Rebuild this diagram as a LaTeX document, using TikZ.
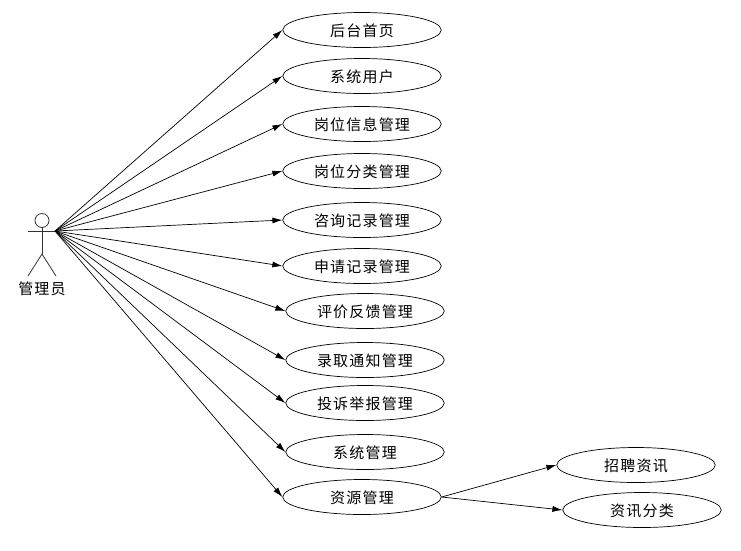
\documentclass[tikz,border=0pt]{standalone}
\usepackage{fontspec}
\setmainfont{Noto Sans CJK SC}[LetterSpace=8]
\usetikzlibrary{arrows.meta, shapes.geometric}

\begin{document}
\begin{tikzpicture}[x=1pt, y=-1pt,
  usecase/.style={draw=black, line width=0.7pt, ellipse, minimum width=158.5pt, minimum height=35pt, inner sep=0pt, text height=13pt, text depth=0pt, font=\fontsize{15}{15}\selectfont},
  actorline/.style={black!80, line width=0.8pt},
  assoc/.style={black, line width=0.7pt, -{Latex[length=10pt, width=6pt]}}]
\useasboundingbox[fill=white] (0,0) rectangle (741,550);
\node[usecase] (home) at (362,30) {后台首页};
\node[usecase] (user) at (362,76) {系统用户};
\node[usecase] (jobinfo) at (362,124) {岗位信息管理};
\node[usecase] (jobtype) at (362,171) {岗位分类管理};
\node[usecase] (consult) at (362,220) {咨询记录管理};
\node[usecase] (apply) at (362,266) {申请记录管理};
\node[usecase] (review) at (365,311) {评价反馈管理};
\node[usecase] (admit) at (365,360) {录取通知管理};
\node[usecase] (report) at (365,403) {投诉举报管理};
\node[usecase] (system) at (365,452) {系统管理};
\node[usecase] (resource) at (362,497) {资源管理};
\node[usecase] (recruit) at (636,465) {招聘资讯};
\node[usecase] (newstype) at (642,510) {资讯分类};
\draw[actorline] (42,220.5) circle (7);
\draw[actorline] (42,227.5) -- (42,254);
\draw[actorline] (28,231) -- (56,231);
\draw[actorline] (28,276) -- (42,254) -- (56,276);
\coordinate (hand) at (55,231);
\node[font=\fontsize{15}{15}\selectfont, inner sep=0pt, text height=13pt, text depth=0pt] (admin) at (42,288) {管理员};
\draw[assoc] (hand) -- (home.west);
\draw[assoc] (hand) -- (user.west);
\draw[assoc] (hand) -- (jobinfo.west);
\draw[assoc] (hand) -- (jobtype.west);
\draw[assoc] (hand) -- (consult.west);
\draw[assoc] (hand) -- (apply.west);
\draw[assoc] (hand) -- (review.west);
\draw[assoc] (hand) -- (admit.west);
\draw[assoc] (hand) -- (report.west);
\draw[assoc] (hand) -- (system.west);
\draw[assoc] (hand) -- (resource.west);
\draw[assoc] (resource.east) -- (recruit.west);
\draw[assoc] (resource.east) -- (newstype.west);
\end{tikzpicture}
\end{document}
